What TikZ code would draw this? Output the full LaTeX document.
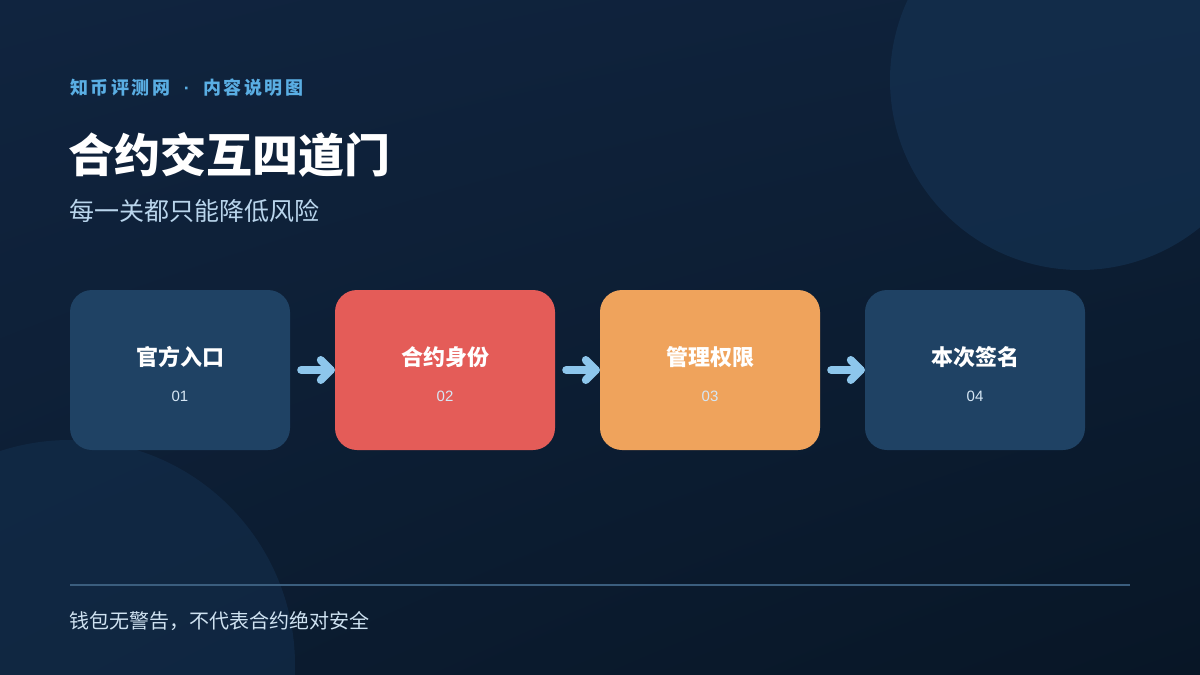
\documentclass[tikz,border=0pt]{standalone}
\usepackage{fontspec}
\setmainfont{Noto Sans CJK SC}
\newfontfamily\headfont{Noto Sans CJK SC}[LetterSpace=14]
\newfontfamily\numfont{Liberation Sans}
\usetikzlibrary{calc,shadings}
\definecolor{bgTL}{HTML}{10243F}
\definecolor{bgTR}{HTML}{0E2139}
\definecolor{bgBL}{HTML}{0C1D32}
\definecolor{bgBR}{HTML}{081626}
\definecolor{circ}{HTML}{14304F}
\definecolor{boxblue}{HTML}{1F4264}
\definecolor{boxred}{HTML}{E45C58}
\definecolor{boxorange}{HTML}{EFA35C}
\definecolor{arrowc}{HTML}{8DC6EC}
\definecolor{headc}{HTML}{5AAEE3}
\definecolor{subc}{HTML}{B9D5EC}
\definecolor{footc}{HTML}{CFE2F1}
\definecolor{rulec}{HTML}{3B5E7E}
\definecolor{numc}{HTML}{D6E7F5}
\tikzset{
  stepbox/.style={rounded corners=22pt, minimum width=220pt, minimum height=160pt, inner sep=0pt, draw=none},
  boxlabel/.style={text=white, font=\bfseries\fontsize{22}{22}\selectfont, inner sep=0pt},
  boxnum/.style={text=numc, font=\numfont\fontsize{15}{15}\selectfont, inner sep=0pt},
  flow/.style={draw=arrowc, line width=8pt, line cap=round, line join=round},
}
\begin{document}
\begin{tikzpicture}[x=1pt,y=-1pt]
\useasboundingbox (0,0) rectangle (1200,675);
\clip (0,0) rectangle (1200,675);
% background
\shade[upper left=bgTL, upper right=bgTR, lower left=bgBL, lower right=bgBR] (0,0) rectangle (1200,675);
% decorative circles
\fill[circ, opacity=0.75] (1080,80) circle[radius=190];
\fill[circ, opacity=0.55] (70,665) circle[radius=225];
% header texts
\node[anchor=west, inner sep=0pt, text=headc, font=\headfont\bfseries\fontsize{18}{18}\selectfont] (head) at (70,88) {知币评测网\hspace{13.5pt}{\numfont\bfseries ·}\hspace{13.5pt}内容说明图};
\node[anchor=west, inner sep=0pt, text=white, font=\bfseries\fontsize{46}{46}\selectfont] (title) at (68,155) {合约交互四道门};
\node[anchor=west, inner sep=0pt, text=subc, font=\fontsize{25}{25}\selectfont] (sub) at (69,211) {每一关都只能降低风险};
% boxes
\node[stepbox, fill=boxblue] (b1) at (180,370) {};
\node[stepbox, fill=boxred] (b2) at (445,370) {};
\node[stepbox, fill=boxorange] (b3) at (710,370) {};
\node[stepbox, fill=boxblue] (b4) at (975,370) {};
\foreach \b/\t/\n in {b1/官方入口/01, b2/合约身份/02, b3/管理权限/03, b4/本次签名/04}{
  \node[boxlabel] (\b-l) at ($(\b.center)+(0,-13)$) {\t};
  \node[boxnum] (\b-n) at ($(\b.center)+(0,26)$) {\n};
}
% arrows
\foreach \a/\b in {b1/b2, b2/b3, b3/b4}{
  \coordinate (\a-s) at ($(\a.east)+(11,0)$);
  \coordinate (\a-t) at ($(\b.west)+(-4,0)$);
  \draw[flow] (\a-s) -- (\a-t);
  \draw[flow] ($(\a-t)+(-10,-10)$) -- (\a-t) -- ($(\a-t)+(-10,10)$);
}
% rule and footer
\coordinate (r1) at (70,585);
\coordinate (r2) at (1130,585);
\draw[rulec, line width=1.5pt] (r1) -- (r2);
\node[anchor=west, inner sep=0pt, text=footc, font=\fontsize{20}{20}\selectfont] (foot) at (69,621) {钱包无警告，不代表合约绝对安全};
\end{tikzpicture}
\end{document}
